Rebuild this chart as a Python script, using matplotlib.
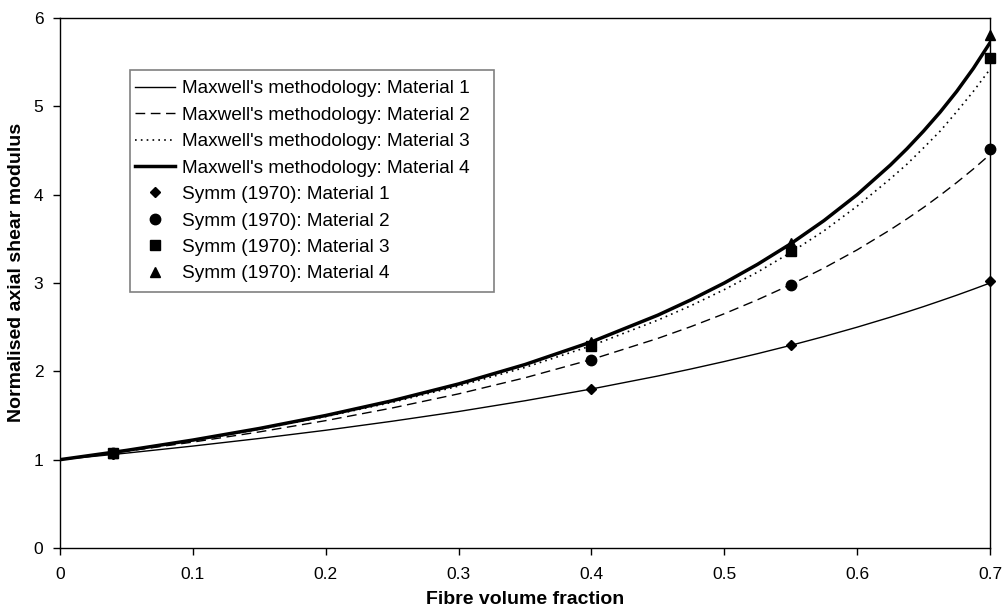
import matplotlib
matplotlib.use("Agg")
import matplotlib.pyplot as plt
from matplotlib.patches import Rectangle

plt.rcParams['font.family'] = ['Liberation Sans', 'DejaVu Sans']

# Fibre volume fraction for the Maxwell curves
vf = [0.0, 0.05, 0.1, 0.15, 0.2, 0.25, 0.3, 0.35, 0.4, 0.45, 0.475, 0.5, 0.525,
      0.55, 0.575, 0.6, 0.625, 0.6375, 0.65, 0.6625, 0.675, 0.6875, 0.7]
maxwell_m1 = [1.0, 1.074, 1.154, 1.24, 1.333, 1.435, 1.545, 1.667, 1.8, 1.947,
              2.027, 2.111, 2.2, 2.294, 2.394, 2.5, 2.613, 2.672, 2.733, 2.797,
              2.862, 2.93, 3.0]
maxwell_m2 = [1.0, 1.095, 1.199, 1.314, 1.442, 1.585, 1.745, 1.927, 2.134,
              2.373, 2.507, 2.652, 2.81, 2.981, 3.169, 3.375, 3.603, 3.726,
              3.855, 3.993, 4.138, 4.291, 4.455]
maxwell_m3 = [1.0, 1.103, 1.217, 1.345, 1.488, 1.649, 1.833, 2.044, 2.29,
              2.58, 2.744, 2.925, 3.123, 3.345, 3.59, 3.87, 4.18, 4.345, 4.53,
              4.72, 4.94, 5.17, 5.42]
maxwell_m4 = [1.0, 1.105, 1.222, 1.353, 1.5, 1.667, 1.857, 2.077, 2.333,
              2.636, 2.81, 3.0, 3.211, 3.444, 3.706, 4.0, 4.335, 4.52, 4.72,
              4.935, 5.17, 5.43, 5.72]

# Symm (1970) data points
symm_vf = [0.04, 0.4, 0.55, 0.7]
symm_m1 = [1.06, 1.80, 2.30, 3.02]
symm_m2 = [1.08, 2.13, 2.98, 4.52]
symm_m3 = [1.08, 2.29, 3.36, 5.55]
symm_m4 = [1.08, 2.33, 3.45, 5.81]

labels_maxwell = ["Maxwell's methodology: Material 1",
                  "Maxwell's methodology: Material 2",
                  "Maxwell's methodology: Material 3",
                  "Maxwell's methodology: Material 4"]
labels_symm = ["Symm (1970): Material 1", "Symm (1970): Material 2",
               "Symm (1970): Material 3", "Symm (1970): Material 4"]

W, H = 1002, 614
fig = plt.figure(figsize=(W / 100, H / 100), dpi=100)
ax = fig.add_axes([60 / W, 1 - 548 / H, 930 / W, 530 / H])

ax.plot(vf, maxwell_m1, color='black', lw=1.0, label=labels_maxwell[0])
ax.plot(vf, maxwell_m2, color='black', lw=1.0, ls=(0, (7, 4)), label=labels_maxwell[1])
ax.plot(vf, maxwell_m3, color='black', lw=1.2, ls=(0, (1, 2.5)), label=labels_maxwell[2])
ax.plot(vf, maxwell_m4, color='black', lw=2.5, label=labels_maxwell[3])

ax.plot(symm_vf, symm_m1, ls='none', marker='D', ms=5, color='black', label=labels_symm[0], clip_on=False)
ax.plot(symm_vf, symm_m2, ls='none', marker='o', ms=7.5, color='black', label=labels_symm[1], clip_on=False)
ax.plot(symm_vf, symm_m3, ls='none', marker='s', ms=6.5, color='black', label=labels_symm[2], clip_on=False)
ax.plot(symm_vf, symm_m4, ls='none', marker='^', ms=7.5, color='black', label=labels_symm[3], clip_on=False)

ax.set_xlim(0, 0.7)
ax.set_ylim(0, 6)
xticks = [0, 0.1, 0.2, 0.3, 0.4, 0.5, 0.6, 0.7]
ax.set_xticks(xticks)
ax.set_xticklabels(['0', '0.1', '0.2', '0.3', '0.4', '0.5', '0.6', '0.7'])
ax.set_yticks([0, 1, 2, 3, 4, 5, 6])
ax.tick_params(axis='both', direction='out', length=5, width=1, labelsize=12.5,
               top=False, right=False)
ax.tick_params(axis='x', pad=9)
ax.tick_params(axis='y', pad=7)
for s in ax.spines.values():
    s.set_linewidth(1.0)
    s.set_color('black')

fig.text(525 / W, 1 - 600 / H, 'Fibre volume fraction',
         fontsize=14, fontweight='bold', ha='center', va='center')
fig.text(17 / W, 1 - 272 / H, 'Normalised axial shear modulus', rotation=90,
         fontsize=14, fontweight='bold', ha='center', va='center')

fs = 13.7
fs_px = fs * 100 / 72
leg = ax.legend(loc='upper left', bbox_to_anchor=(135 / W, 1 - 80 / H),
                bbox_transform=fig.transFigure, borderaxespad=0, fontsize=fs,
                frameon=False, numpoints=1,
                handlelength=40 / fs_px, handletextpad=7 / fs_px,
                labelspacing=0.48, borderpad=0)
leg.set_zorder(6)

box = Rectangle((130 / W, 1 - 292 / H), (494 - 130) / W, (292 - 70) / H,
                transform=fig.transFigure, fill=True, facecolor='white',
                edgecolor='#808080', linewidth=1.2, zorder=4)
ax.add_patch(box)

fig.savefig('out.png', dpi=100)
